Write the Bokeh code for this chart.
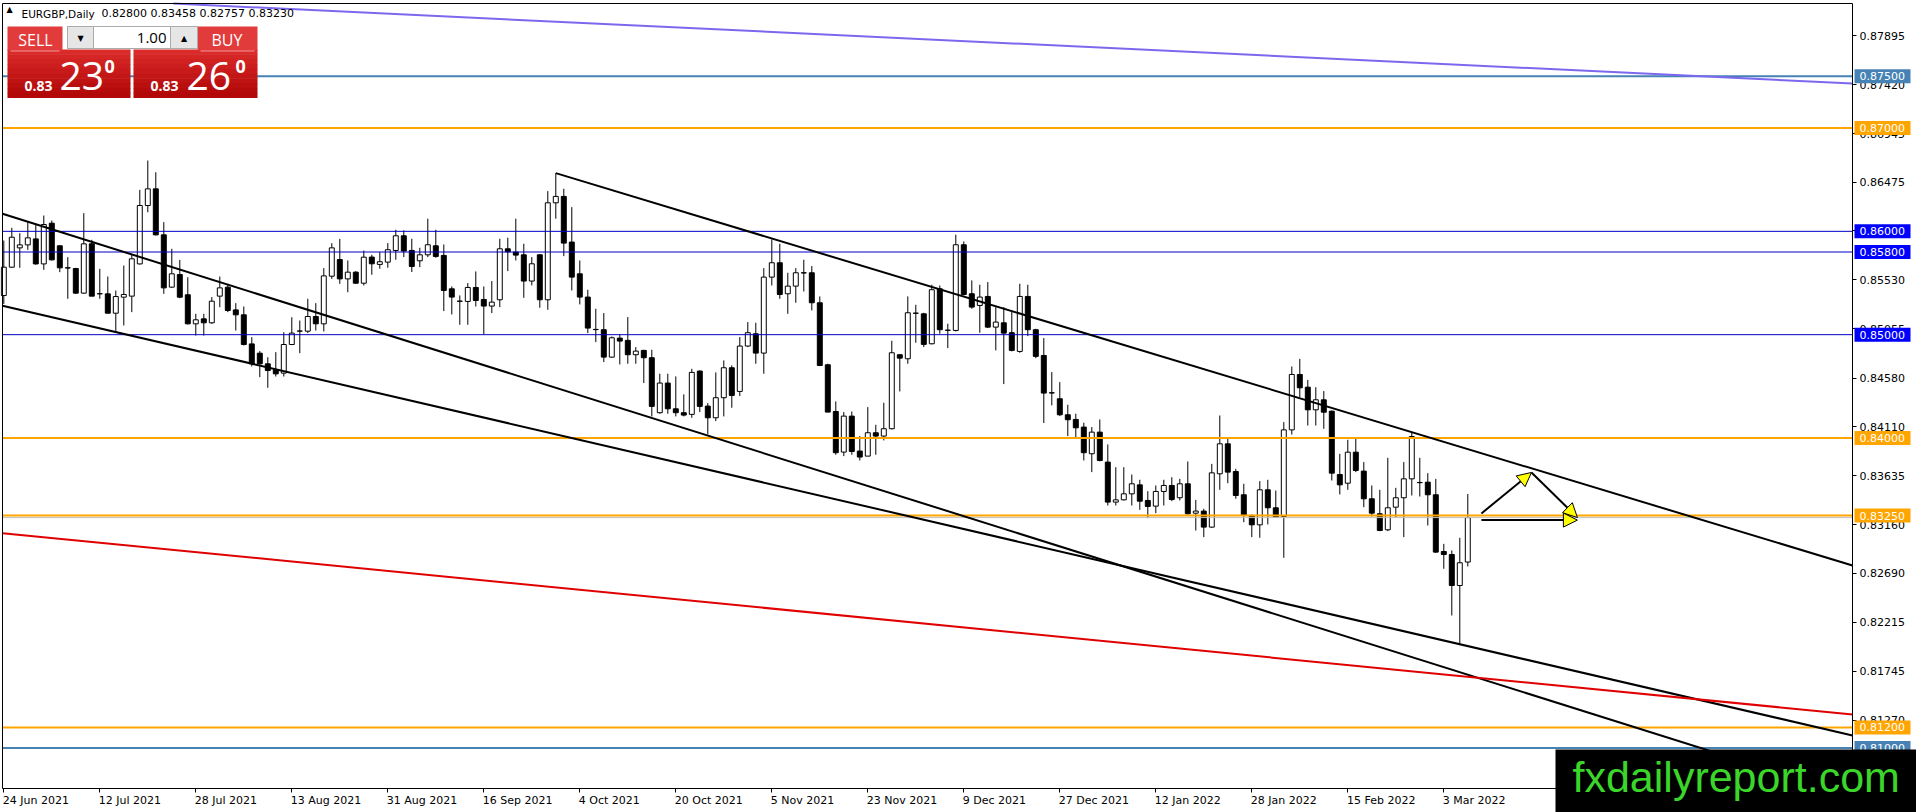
from bokeh.plotting import figure
from bokeh.models import Range1d, FixedTicker, PrintfTickFormatter, LinearAxis, Arrow, NormalHead
from bokeh.core.properties import value
from bokeh.embed import file_html
from bokeh.resources import INLINE

# ---------------- data (EURGBP daily) ----------------
date_labels = ["24 Jun 2021", "12 Jul 2021", "28 Jul 2021", "13 Aug 2021", "31 Aug 2021",
               "16 Sep 2021", "4 Oct 2021", "20 Oct 2021", "5 Nov 2021", "23 Nov 2021",
               "9 Dec 2021", "27 Dec 2021", "12 Jan 2022", "28 Jan 2022", "15 Feb 2022", "3 Mar 2022"]
date_ticks = [0, 12, 24, 36, 48, 60, 72, 84, 96, 108, 120, 132, 144, 156, 168, 180]

opens = [0.85379, 0.85653, 0.85840, 0.85869, 0.85927, 0.85685, 0.86079, 0.85860, 0.85647, 0.85640,
         0.85402, 0.85879, 0.85395, 0.85395, 0.85208, 0.85363, 0.85373, 0.85685, 0.86250, 0.86411,
         0.85966, 0.85460, 0.85582, 0.85386, 0.85105, 0.85153, 0.85115, 0.85373, 0.85460, 0.85240,
         0.85192, 0.84911, 0.84821, 0.84718, 0.84660, 0.84628, 0.84905, 0.85034, 0.85034, 0.85176,
         0.85105, 0.85566, 0.85727, 0.85540, 0.85605, 0.85498, 0.85751, 0.85680, 0.85702, 0.85815,
         0.85957, 0.85815, 0.85715, 0.85773, 0.85860, 0.85767, 0.85444, 0.85325, 0.85322, 0.85457,
         0.85341, 0.85277, 0.85338, 0.85831, 0.85799, 0.85773, 0.85519, 0.85773, 0.85338, 0.86276,
         0.86338, 0.85896, 0.85589, 0.85364, 0.85051, 0.85048, 0.84783, 0.84967, 0.84945, 0.84806,
         0.84848, 0.84777, 0.84245, 0.84532, 0.84283, 0.84245, 0.84229, 0.84648, 0.84309, 0.84196,
         0.84390, 0.84680, 0.84451, 0.84890, 0.85009, 0.84822, 0.85557, 0.85696, 0.85396, 0.85470,
         0.85599, 0.85599, 0.85309, 0.84709, 0.84257, 0.83864, 0.84212, 0.83874, 0.83825, 0.84051,
         0.84019, 0.84090, 0.84806, 0.84767, 0.85209, 0.85202, 0.84912, 0.85444, 0.85044, 0.85041,
         0.85870, 0.85396, 0.85283, 0.85370, 0.85073, 0.85115, 0.85019, 0.84838, 0.85370, 0.85048,
         0.84799, 0.84438, 0.84380, 0.84225, 0.84180, 0.84106, 0.83848, 0.84057, 0.83767, 0.83380,
         0.83402, 0.83460, 0.83547, 0.83396, 0.83341, 0.83483, 0.83541, 0.83422, 0.83557, 0.83273,
         0.83293, 0.83138, 0.83654, 0.83944, 0.83676, 0.83451, 0.83251, 0.83160, 0.83499, 0.83325,
         0.83241, 0.84079, 0.84615, 0.84492, 0.84273, 0.84370, 0.84260, 0.83647, 0.83563, 0.83863,
         0.83680, 0.83412, 0.83267, 0.83112, 0.83331, 0.83422, 0.83605, 0.83570, 0.83573, 0.83451,
         0.82902, 0.82873, 0.82573, 0.82800]
highs = [0.85911, 0.86034, 0.85982, 0.86089, 0.86072, 0.86153, 0.86105, 0.85866, 0.85750, 0.85647,
         0.86176, 0.85918, 0.85637, 0.85563, 0.85427, 0.85669, 0.85776, 0.86401, 0.86685, 0.86572,
         0.86089, 0.85831, 0.85724, 0.85556, 0.85202, 0.85202, 0.85363, 0.85563, 0.85492, 0.85305,
         0.85273, 0.84976, 0.84841, 0.84782, 0.84831, 0.85024, 0.85169, 0.85137, 0.85347, 0.85305,
         0.85644, 0.85885, 0.85927, 0.85718, 0.85615, 0.85814, 0.85773, 0.85799, 0.85886, 0.86015,
         0.86009, 0.85928, 0.85841, 0.86122, 0.86015, 0.85873, 0.85467, 0.85380, 0.85499, 0.85612,
         0.85467, 0.85519, 0.85928, 0.85938, 0.86122, 0.85880, 0.85751, 0.85777, 0.86389, 0.86563,
         0.86412, 0.86234, 0.85718, 0.85435, 0.85251, 0.85209, 0.84983, 0.85003, 0.85170, 0.84880,
         0.84854, 0.84854, 0.84622, 0.84622, 0.84596, 0.84422, 0.84670, 0.84654, 0.84338, 0.84635,
         0.84751, 0.84703, 0.84977, 0.85122, 0.85115, 0.85644, 0.85922, 0.85880, 0.85599, 0.85644,
         0.85725, 0.85664, 0.85370, 0.84719, 0.84354, 0.84251, 0.84257, 0.84019, 0.84299, 0.84128,
         0.84341, 0.84941, 0.84812, 0.85370, 0.85289, 0.85212, 0.85483, 0.85476, 0.85106, 0.85967,
         0.85902, 0.85525, 0.85483, 0.85509, 0.85267, 0.85267, 0.85225, 0.85493, 0.85483, 0.85057,
         0.84967, 0.84638, 0.84541, 0.84322, 0.84235, 0.84148, 0.84106, 0.84180, 0.83938, 0.83718,
         0.83718, 0.83647, 0.83596, 0.83486, 0.83541, 0.83596, 0.83621, 0.83605, 0.83773, 0.83402,
         0.83315, 0.83750, 0.84218, 0.84002, 0.83702, 0.83557, 0.83260, 0.83583, 0.83596, 0.83492,
         0.84154, 0.84692, 0.84766, 0.84563, 0.84492, 0.84454, 0.84266, 0.83847, 0.83983, 0.84002,
         0.83767, 0.83541, 0.83499, 0.83809, 0.83518, 0.83767, 0.84057, 0.83809, 0.83660, 0.83605,
         0.82976, 0.82912, 0.83035, 0.83458]
lows = [0.85298, 0.85647, 0.85647, 0.85821, 0.85676, 0.85627, 0.85718, 0.85605, 0.85347, 0.85395,
        0.85395, 0.85373, 0.85347, 0.85208, 0.85024, 0.85089, 0.85218, 0.85679, 0.86185, 0.85960,
        0.85395, 0.85453, 0.85353, 0.85099, 0.84992, 0.84992, 0.85105, 0.85266, 0.85218, 0.85040,
        0.84895, 0.84692, 0.84589, 0.84486, 0.84595, 0.84595, 0.84899, 0.84821, 0.85015, 0.85040,
        0.85031, 0.85540, 0.85492, 0.85411, 0.85492, 0.85476, 0.85580, 0.85638, 0.85648, 0.85725,
        0.85751, 0.85606, 0.85654, 0.85751, 0.85744, 0.85228, 0.85196, 0.85096, 0.85096, 0.85273,
        0.85003, 0.85209, 0.85267, 0.85615, 0.85718, 0.85357, 0.85477, 0.85261, 0.85241, 0.86122,
        0.85760, 0.85428, 0.85293, 0.85015, 0.84928, 0.84735, 0.84777, 0.84712, 0.84719, 0.84719,
        0.84532, 0.84209, 0.84235, 0.84235, 0.84209, 0.84209, 0.84196, 0.84251, 0.84035, 0.84164,
        0.84209, 0.84293, 0.84406, 0.84880, 0.84719, 0.84622, 0.85476, 0.85347, 0.85202, 0.85309,
        0.85418, 0.85235, 0.84696, 0.84251, 0.83838, 0.83825, 0.83838, 0.83783, 0.83825, 0.83838,
        0.83977, 0.84083, 0.84451, 0.84719, 0.84922, 0.84880, 0.84906, 0.85009, 0.84870, 0.85031,
        0.85380, 0.85251, 0.85019, 0.85064, 0.84848, 0.84522, 0.84838, 0.84825, 0.84986, 0.84773,
        0.84145, 0.84316, 0.84212, 0.84019, 0.84009, 0.83783, 0.83670, 0.83774, 0.83347, 0.83347,
        0.83396, 0.83347, 0.83305, 0.83225, 0.83273, 0.83347, 0.83389, 0.83396, 0.83260, 0.83105,
        0.83041, 0.83131, 0.83499, 0.83563, 0.83412, 0.83186, 0.83041, 0.83035, 0.83164, 0.83228,
        0.82841, 0.84034, 0.84395, 0.84121, 0.84121, 0.84089, 0.83589, 0.83454, 0.83499, 0.83670,
        0.83331, 0.83241, 0.83099, 0.83099, 0.83234, 0.83041, 0.83444, 0.83434, 0.83154, 0.82889,
        0.82735, 0.82283, 0.82009, 0.82757]
closes = [0.85653, 0.85943, 0.85869, 0.85937, 0.85685, 0.86066, 0.85724, 0.85647, 0.85645, 0.85402,
          0.85879, 0.85373, 0.85397, 0.85208, 0.85369, 0.85389, 0.85734, 0.86250, 0.86411, 0.85966,
          0.85453, 0.85589, 0.85363, 0.85105, 0.85144, 0.85115, 0.85324, 0.85453, 0.85234, 0.85192,
          0.84905, 0.84718, 0.84718, 0.84653, 0.84621, 0.84905, 0.85015, 0.85036, 0.85176, 0.85105,
          0.85569, 0.85840, 0.85540, 0.85605, 0.85498, 0.85750, 0.85686, 0.85706, 0.85822, 0.85957,
          0.85809, 0.85660, 0.85773, 0.85870, 0.85757, 0.85428, 0.85364, 0.85323, 0.85457, 0.85331,
          0.85277, 0.85315, 0.85831, 0.85802, 0.85770, 0.85519, 0.85686, 0.85338, 0.86276, 0.86338,
          0.85886, 0.85557, 0.85364, 0.85064, 0.85049, 0.84783, 0.84970, 0.84938, 0.84806, 0.84841,
          0.84777, 0.84306, 0.84532, 0.84283, 0.84245, 0.84222, 0.84635, 0.84306, 0.84196, 0.84390,
          0.84680, 0.84412, 0.84890, 0.85019, 0.84822, 0.85557, 0.85696, 0.85389, 0.85470, 0.85599,
          0.85597, 0.85309, 0.84702, 0.84251, 0.83858, 0.84212, 0.83870, 0.83816, 0.84051, 0.84019,
          0.84090, 0.84825, 0.84773, 0.85212, 0.85207, 0.84906, 0.85435, 0.85048, 0.85042, 0.85870,
          0.85389, 0.85267, 0.85364, 0.85073, 0.85122, 0.85015, 0.84848, 0.85370, 0.85048, 0.84790,
          0.84435, 0.84436, 0.84225, 0.84177, 0.84099, 0.83858, 0.84057, 0.83783, 0.83380, 0.83402,
          0.83460, 0.83557, 0.83389, 0.83338, 0.83483, 0.83541, 0.83405, 0.83557, 0.83267, 0.83293,
          0.83138, 0.83663, 0.83944, 0.83670, 0.83444, 0.83251, 0.83160, 0.83499, 0.83325, 0.83234,
          0.84079, 0.84615, 0.84486, 0.84273, 0.84370, 0.84250, 0.83660, 0.83547, 0.83863, 0.83686,
          0.83412, 0.83273, 0.83105, 0.83325, 0.83422, 0.83605, 0.84015, 0.83568, 0.83451, 0.82896,
          0.82873, 0.82573, 0.82793, 0.83230]

# price axis ticks
price_ticks = [0.87895, 0.87420, 0.86945, 0.86475, 0.86005, 0.85530, 0.85055, 0.84580,
               0.84110, 0.83635, 0.83160, 0.82690, 0.82215, 0.81745, 0.81270, 0.80800]

# horizontal levels
levels = [0.87500, 0.87000, 0.86000, 0.85800, 0.85000, 0.84000, 0.83250, 0.81200, 0.81000]
level_text = ["0.87500", "0.87000", "0.86000", "0.85800", "0.85000", "0.84000", "0.83250", "0.81200", "0.81000"]
level_line_colors = ["#4682B4", "#FFA500", "#0000C8", "#0000C8", "#0000C8", "#FFA500", "#FFA500", "#FFA500", "#4682B4"]
level_box_colors = ["#4682B4", "#FFA500", "#0000FF", "#0000FF", "#0000FF", "#FFA500", "#FFA500", "#FFA500", "#4682B4"]
level_widths = [2, 2, 1, 1, 1, 2, 2, 2, 2]
bid_price = 0.83230

# trend lines (bar index, price)
trend_x0 = [-0.16, -0.16, 69.0, -0.16, 21.2]
trend_y0 = [0.85280, 0.86170, 0.86563, 0.83079, 0.88205]
trend_x1 = [231.09, 228.2, 231.09, 231.09, 231.09]
trend_y1 = [0.81122, 0.80609, 0.82767, 0.81325, 0.87431]
trend_colors = ["black", "black", "black", "#E00000", "#7B68EE"]

# projection arrows (bar index, price)
arrow_x0 = [184.7, 190.96, 184.7]
arrow_y0 = [0.83270, 0.83667, 0.83206]
arrow_x1 = [190.96, 196.7, 196.7]
arrow_y1 = [0.83667, 0.83231, 0.83206]

# ---------------- layout: canvas pixel <-> (bar index, price) ----------------
W, H = 1916, 812
BAR_PX, BAR0_PX = 8.0, 3.3
PRICE_REF, PRICE_REF_Y, PX_PER_UNIT = 0.87895, 35.0, 10334.5


def px(x):
    return (x - BAR0_PX) / BAR_PX


def py(y):
    return PRICE_REF - (y - PRICE_REF_Y) / PX_PER_UNIT


CH_L, CH_R, CH_T, CH_B = px(2), px(1852), py(3), py(788)

p = figure(width=W, height=H, output_backend="svg", toolbar_location=None,
           x_range=Range1d(px(0), px(W)), y_range=Range1d(py(H), py(0)),
           x_axis_location=None, y_axis_location=None, min_border=0,
           min_border_left=0, min_border_right=0, min_border_top=0, min_border_bottom=0)
p.xgrid.visible = False
p.ygrid.visible = False
p.background_fill_color = "white"
p.border_fill_color = "white"
p.outline_line_color = None


def style_axis(ax):
    ax.major_tick_out = 4
    ax.major_tick_in = 0
    ax.minor_tick_line_color = None
    ax.axis_line_color = "black"
    ax.major_tick_line_color = "black"
    ax.major_label_text_font = "DejaVu Sans"
    ax.major_label_text_font_size = "11px"
    ax.major_label_text_color = "black"


# price axis (right edge of the chart)
yax = LinearAxis(ticker=FixedTicker(ticks=price_ticks), formatter=PrintfTickFormatter(format="%.5f"),
                 fixed_location=CH_R, bounds=(CH_B, CH_T))
style_axis(yax)
yax.major_label_standoff = 3
p.add_layout(yax, "right")

# date axis: tick marks
xax = LinearAxis(ticker=FixedTicker(ticks=date_ticks), fixed_location=CH_B, bounds=(CH_L, CH_R),
                 major_label_overrides={t: "" for t in date_ticks})
style_axis(xax)
p.add_layout(xax, "below")

# date axis: labels, placed so that each label starts at its tick (MT4 style)
CW = {" ": .318, "J": .295, "u": .634, "n": .634, "l": .278, "A": .684, "g": .635, "S": .635,
      "e": .615, "p": .635, "O": .787, "c": .550, "t": .392, "N": .748, "o": .612, "v": .592,
      "D": .770, "F": .575, "b": .635, "M": .863, "a": .613, "r": .411}
label_pos = [t + ((sum(CW.get(ch, .636) for ch in lab) * 11) / 2 - 1) / BAR_PX
             for t, lab in zip(date_ticks, date_labels)]
xlab = LinearAxis(ticker=FixedTicker(ticks=label_pos), fixed_location=CH_B,
                  major_label_overrides={t: l for t, l in zip(label_pos, date_labels)})
style_axis(xlab)
xlab.axis_line_color = None
xlab.major_tick_line_color = None
xlab.major_label_standoff = 1
p.add_layout(xlab, "below")

# ---------------- candles ----------------
idx = list(range(len(opens)))
p.segment(x0=idx, y0=lows, x1=idx, y1=highs, line_color="black", line_width=1)
tops = [max(o, c) for o, c in zip(opens, closes)]
bots = [min(o, c) for o, c in zip(opens, closes)]
fills = ["white" if c >= o else "black" for o, c in zip(opens, closes)]
p.vbar(x=idx, width=0.62, top=tops, bottom=bots, fill_color=fills, line_color="black", line_width=1)

# ---------------- horizontal levels ----------------
p.segment(x0=[CH_L], y0=[bid_price], x1=[CH_R], y1=[bid_price], line_color="#C0C0C0", line_width=1)
for lv, col, w in zip(levels, level_line_colors, level_widths):
    p.segment(x0=[CH_L], y0=[lv], x1=[CH_R], y1=[lv], line_color=col, line_width=w)

# ---------------- trend lines ----------------
p.segment(x0=trend_x0, y0=trend_y0, x1=trend_x1, y1=trend_y1, line_color=trend_colors, line_width=2)

for ax0, ay0, ax1, ay1 in zip(arrow_x0, arrow_y0, arrow_x1, arrow_y1):
    p.add_layout(Arrow(end=NormalHead(size=14, fill_color="#FFFF00", line_color="black", line_width=1),
                       x_start=ax0, y_start=ay0, x_end=ax1, y_end=ay1,
                       line_color="black", line_width=2))

# chart border (left / top; right & bottom are the axes)
p.segment(x0=[CH_L, CH_L], y0=[CH_B, CH_T], x1=[CH_L, CH_R], y1=[CH_T, CH_T], line_color="black", line_width=1)

# ---------------- one-click trading panel ----------------
def box(l, r, t, b, fill, line=None):
    return p.quad(left=[px(l)], right=[px(r)], top=[py(t)], bottom=[py(b)],
                  fill_color=fill, line_color=line)


nb = 10
for k in range(nb):
    t0 = 49 + (97 - 49) * k / nb
    t1 = 49 + (97 - 49) * (k + 1) / nb
    f = k / (nb - 1)
    col = "#%02X%02X%02X" % (int(218 - 40 * f), int(42 - 34 * f), int(42 - 34 * f))
    box(7, 130, t0, t1 + 0.5, col)
    box(133, 257, t0, t1 + 0.5, col)
box(7, 62, 26, 50, "#E23B3B")
box(197, 257, 26, 50, "#E23B3B")
p.segment(x0=[px(10), px(200)], y0=[py(50.5)] * 2, x1=[px(59), px(254)], y1=[py(50.5)] * 2,
          line_color="#F29A9A", line_width=1)
box(67, 197, 26, 48, "#FFFFFF", "#ABABAB")
box(67, 93, 26, 48, "#E6E6E6", "#ABABAB")
box(170, 197, 26, 48, "#E6E6E6", "#ABABAB")

panel_font = value("Open Sans")
p.text(x=[px(35), px(226.5)], y=[py(39)] * 2, text=["SELL", "BUY"], text_color="white",
       text_font=panel_font, text_font_size=value("16px"), text_align="center", text_baseline="middle")
p.text(x=[px(80), px(183.5)], y=[py(37.5)] * 2, text=["▼", "▲"], text_color="black",
       text_font=value("DejaVu Sans"), text_font_size=value("8px"), text_align="center", text_baseline="middle")
p.text(x=[px(166)], y=[py(37.5)], text=["1.00"], text_color="black",
       text_font=panel_font, text_font_size=value("15px"), text_align="right", text_baseline="middle")
p.text(x=[px(24), px(150)], y=[py(80)] * 2, text=["0.83", "0.83"], text_color="white",
       text_font=panel_font, text_font_size=value("14px"), text_font_style="bold",
       text_align="left", text_baseline="top")
p.text(x=[px(59), px(186)], y=[py(61)] * 2, text=["23", "26"], text_color="white",
       text_font=panel_font, text_font_size=value("39px"), text_align="left", text_baseline="top")
p.text(x=[px(104), px(235)], y=[py(59)] * 2, text=["0", "0"], text_color="white",
       text_font=panel_font, text_font_size=value("18px"), text_font_style="bold",
       text_align="left", text_baseline="top")

# chart title
p.text(x=[px(6)], y=[py(8.5)], text=["▲"], text_color="black", text_font=value("DejaVu Sans"),
       text_font_size=value("8px"), text_align="left", text_baseline="middle")
p.text(x=[px(21)], y=[py(13)], text=["EURGBP,Daily"], text_color="black", text_font=value("DejaVu Sans"),
       text_font_size=value("10.5px"), text_align="left", text_baseline="alphabetic")
p.text(x=[px(101)], y=[py(13)], text=["0.82800 0.83458 0.82757 0.83230"], text_color="black",
       text_font=value("DejaVu Sans"), text_font_size=value("11px"), text_align="left",
       text_baseline="alphabetic")

# ---------------- price labels on the axis (drawn over the axis) ----------------
LB_L, LB_R, LB_H = px(1854), px(1910), 14 / PX_PER_UNIT
r = p.quad(left=[LB_L] * len(levels), right=[LB_R] * len(levels),
           top=[lv + LB_H / 2 for lv in levels], bottom=[lv - LB_H / 2 for lv in levels],
           fill_color=level_box_colors, line_color=None)
r.level = "overlay"
r = p.text(x=[px(1859)] * len(levels), y=levels, text=level_text, text_color="white",
           text_font=value("DejaVu Sans"), text_font_size=value("11px"),
           text_align="left", text_baseline="middle")
r.level = "overlay"

# ---------------- watermark ----------------
r = box(1555, W + 2, 749, H + 2, "black")
r.level = "overlay"
r = p.text(x=[px(1572)], y=[py(776)], text=["fxdailyreport.com"], text_color="#3BD62A",
           text_font=value("Liberation Sans"), text_font_size=value("43px"), text_align="left",
           text_baseline="middle")
r.level = "overlay"

open("out.html", "w").write(file_html(p, INLINE))
